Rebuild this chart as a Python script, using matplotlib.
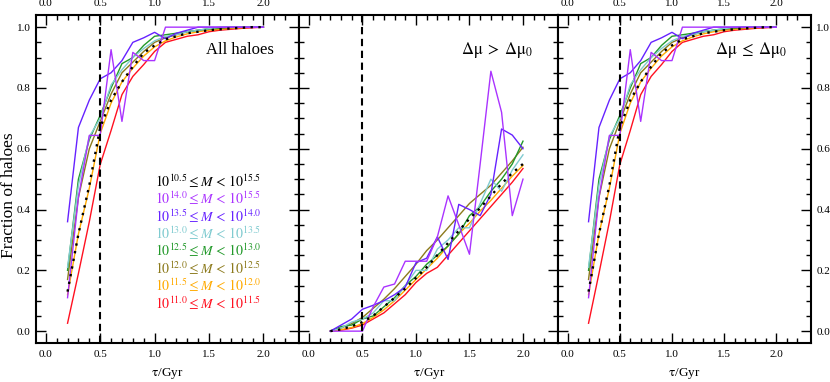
import numpy as np
import matplotlib
matplotlib.use("Agg")
import matplotlib.pyplot as plt
from matplotlib.ticker import MultipleLocator, FixedLocator

plt.rcParams['font.family'] = ['Liberation Serif', 'DejaVu Serif']
plt.rcParams['mathtext.fontset'] = 'stix'

tau = [0.2, 0.3, 0.4, 0.5, 0.6, 0.7, 0.8, 0.9, 1.0, 1.1, 1.2, 1.3, 1.4, 1.5, 1.6, 1.7, 1.8, 1.9, 2.0]

labels = [r'$10^{10.5}\leq M\,<\,10^{15.5}$',
          r'$10^{14.0}\leq M\,<\,10^{15.5}$',
          r'$10^{13.5}\leq M\,<\,10^{14.0}$',
          r'$10^{13.0}\leq M\,<\,10^{13.5}$',
          r'$10^{12.5}\leq M\,<\,10^{13.0}$',
          r'$10^{12.0}\leq M\,<\,10^{12.5}$',
          r'$10^{11.5}\leq M\,<\,10^{12.0}$',
          r'$10^{11.0}\leq M\,<\,10^{11.5}$']
colors = ['black', '#aa33ff', '#6622ff', '#80cbd0', '#22992a', '#8c7a1c', '#ffaa00', '#ff1020']

# Panel 1: all haloes
all_all   = [0.13, 0.32, 0.48, 0.67, 0.76, 0.82, 0.87, 0.915, 0.94, 0.96, 0.97, 0.98, 0.985, 0.99, 0.993, 0.996, 0.998, 1.0, 1.0]
all_m140  = [0.11, 0.44, 0.644, 0.644, 0.926, 0.69, 0.917, 0.89, 0.89, 1.0, 1.0, 1.0, 1.0, 1.0, 1.0, 1.0, 1.0, 1.0, 1.0]
all_m135  = [0.36, 0.67, 0.76, 0.83, 0.85, 0.89, 0.95, 0.965, 0.983, 0.962, 0.98, 0.99, 1.0, 1.0, 1.0, 1.0, 1.0, 1.0, 1.0]
all_m130  = [0.21, 0.48, 0.64, 0.70, 0.81, 0.86, 0.90, 0.93, 0.955, 0.97, 0.975, 0.985, 0.99, 0.995, 1.0, 1.0, 1.0, 1.0, 1.0]
all_m125  = [0.20, 0.50, 0.63, 0.71, 0.80, 0.88, 0.90, 0.94, 0.97, 0.975, 0.98, 0.985, 0.99, 0.995, 0.998, 1.0, 1.0, 1.0, 1.0]
all_m120  = [0.17, 0.44, 0.60, 0.69, 0.78, 0.85, 0.885, 0.92, 0.95, 0.965, 0.975, 0.985, 0.99, 0.993, 0.996, 0.998, 1.0, 1.0, 1.0]
all_m115  = [0.12, 0.32, 0.47, 0.65, 0.75, 0.82, 0.865, 0.905, 0.935, 0.955, 0.968, 0.978, 0.985, 0.99, 0.993, 0.996, 0.998, 1.0, 1.0]
all_m110  = [0.026, 0.19, 0.36, 0.548, 0.66, 0.778, 0.838, 0.877, 0.92, 0.95, 0.96, 0.97, 0.975, 0.985, 0.99, 0.993, 0.996, 0.998, 1.0]

# Panel 2: delta mu > delta mu_0
hi_all  = [0.0, 0.006, 0.016, 0.03, 0.05, 0.08, 0.11, 0.14, 0.175, 0.21, 0.25, 0.29, 0.33, 0.37, 0.405, 0.445, 0.485, 0.52, 0.55]
hi_m140 = [0.0, 0.0, 0.0, 0.0, 0.08, 0.145, 0.155, 0.23, 0.23, 0.23, 0.31, 0.445, 0.35, 0.253, 0.55, 0.855, 0.72, 0.38, 0.5]
hi_m135 = [0.0, 0.02, 0.04, 0.072, 0.085, 0.10, 0.12, 0.145, 0.225, 0.24, 0.31, 0.236, 0.417, 0.40, 0.38, 0.45, 0.665, 0.645, 0.60]
hi_m130 = [0.0, 0.01, 0.03, 0.04, 0.06, 0.10, 0.10, 0.15, 0.20, 0.20, 0.27, 0.30, 0.34, 0.34, 0.42, 0.50, 0.46, 0.53, 0.58]
hi_m125 = [0.0, 0.015, 0.02, 0.04, 0.05, 0.08, 0.11, 0.15, 0.18, 0.22, 0.25, 0.28, 0.32, 0.38, 0.41, 0.46, 0.50, 0.55, 0.625]
hi_m120 = [0.0, 0.01, 0.025, 0.045, 0.075, 0.105, 0.14, 0.18, 0.22, 0.265, 0.30, 0.34, 0.38, 0.42, 0.45, 0.48, 0.52, 0.56, 0.605]
hi_m115 = [0.0, 0.005, 0.012, 0.025, 0.045, 0.07, 0.10, 0.135, 0.17, 0.205, 0.24, 0.28, 0.32, 0.355, 0.395, 0.43, 0.47, 0.51, 0.545]
hi_m110 = [0.0, 0.003, 0.01, 0.02, 0.04, 0.06, 0.09, 0.12, 0.16, 0.19, 0.21, 0.25, 0.29, 0.33, 0.37, 0.41, 0.45, 0.49, 0.535]

# Panel 3: delta mu <= delta mu_0
lo_all  = [0.13, 0.32, 0.48, 0.67, 0.76, 0.82, 0.87, 0.915, 0.94, 0.96, 0.97, 0.98, 0.985, 0.99, 0.993, 0.996, 0.998, 1.0, 1.0]
lo_m140 = [0.11, 0.44, 0.644, 0.644, 0.926, 0.69, 0.917, 0.89, 0.89, 1.0, 1.0, 1.0, 1.0, 1.0, 1.0, 1.0, 1.0, 1.0, 1.0]
lo_m135 = [0.36, 0.67, 0.76, 0.83, 0.85, 0.89, 0.95, 0.965, 0.983, 0.962, 0.98, 0.99, 1.0, 1.0, 1.0, 1.0, 1.0, 1.0, 1.0]
lo_m130 = [0.21, 0.48, 0.64, 0.70, 0.81, 0.86, 0.90, 0.93, 0.955, 0.97, 0.975, 0.985, 0.99, 0.995, 1.0, 1.0, 1.0, 1.0, 1.0]
lo_m125 = [0.20, 0.50, 0.63, 0.71, 0.80, 0.88, 0.90, 0.94, 0.97, 0.975, 0.98, 0.985, 0.99, 0.995, 0.998, 1.0, 1.0, 1.0, 1.0]
lo_m120 = [0.17, 0.44, 0.60, 0.69, 0.78, 0.85, 0.885, 0.92, 0.95, 0.965, 0.975, 0.985, 0.99, 0.993, 0.996, 0.998, 1.0, 1.0, 1.0]
lo_m115 = [0.12, 0.32, 0.47, 0.65, 0.75, 0.82, 0.865, 0.905, 0.935, 0.955, 0.968, 0.978, 0.985, 0.99, 0.993, 0.996, 0.998, 1.0, 1.0]
lo_m110 = [0.026, 0.19, 0.36, 0.548, 0.66, 0.778, 0.838, 0.877, 0.92, 0.95, 0.96, 0.97, 0.975, 0.985, 0.99, 0.993, 0.996, 0.998, 1.0]

panels = [
    ('All haloes', [all_all, all_m140, all_m135, all_m130, all_m125, all_m120, all_m115, all_m110]),
    (r'$\Delta\mathrm{\mu}\;>\;\Delta\mathrm{\mu}_0$', [hi_all, hi_m140, hi_m135, hi_m130, hi_m125, hi_m120, hi_m115, hi_m110]),
    (r'$\Delta\mathrm{\mu}\;\leq\;\Delta\mathrm{\mu}_0$', [lo_all, lo_m140, lo_m135, lo_m130, lo_m125, lo_m120, lo_m115, lo_m110]),
]

W, H = 830, 382
fig = plt.figure(figsize=(W / 100, H / 100), dpi=100)
boxes = [(36, 299.3), (299.3, 558.3), (558.3, 810.7)]
top_px, bot_px = 15, 343.3

axes = []
for i, (x0, x1) in enumerate(boxes):
    ax = fig.add_axes([x0 / W, (H - bot_px) / H, (x1 - x0) / W, (bot_px - top_px) / H])
    axes.append(ax)

for i, (ax, (title, series)) in enumerate(zip(axes, panels)):
    ax.set_xlim(-0.09, 2.33)
    ax.set_ylim(-0.04, 1.04)
    # coloured lines first (reverse order), black dotted on top
    for k in range(len(series) - 1, 0, -1):
        ax.plot(tau, series[k], color=colors[k], lw=1.0, zorder=2)
    ax.plot(tau, series[0], color='black', lw=1.7, linestyle=(0, (1, 2.3)), zorder=4)
    ax.axvline(0.5, color='black', lw=1.5, dashes=(3.5, 2.2), zorder=5)
    ax.text(2.1, 0.925, title, ha='right', va='center', fontsize=12)

    ax.xaxis.set_major_locator(MultipleLocator(0.5))
    ax.xaxis.set_minor_locator(FixedLocator([v / 10 for v in range(0, 23) if v % 5 != 0]))
    ax.yaxis.set_major_locator(MultipleLocator(0.2))
    ax.yaxis.set_minor_locator(MultipleLocator(0.05))
    ax.tick_params(which='both', direction='in', top=True, bottom=True, left=True, right=True,
                   labelsize=8, width=1.0)
    ax.tick_params(which='major', length=7, pad=5)
    ax.tick_params(which='minor', length=3.5)
    for sp in ax.spines.values():
        sp.set_linewidth(1.5)
    ax.set_xlabel(r'$\mathrm{\tau}$/Gyr', fontsize=9.5, labelpad=5)
    if i == 0:
        ax.tick_params(labeltop=True, labelleft=True, labelright=False)
        ax.tick_params(axis='y', pad=4)
    elif i == 1:
        ax.tick_params(labeltop=False, labelleft=False, labelright=False)
    else:
        ax.tick_params(labeltop=True, labelleft=False, labelright=True)
        ax.tick_params(axis='y', pad=4)

# mass-bin key in the first panel
for k, lab in enumerate(labels):
    axes[0].text(1.0, 0.494 - k * 0.0573, lab, color=colors[k], fontsize=10,
                 ha='left', va='center')

fig.text(9.5 / W, 0.49, 'Fraction of haloes', rotation=90, ha='center', va='center', fontsize=12.5)

fig.savefig('out.png', dpi=100)
